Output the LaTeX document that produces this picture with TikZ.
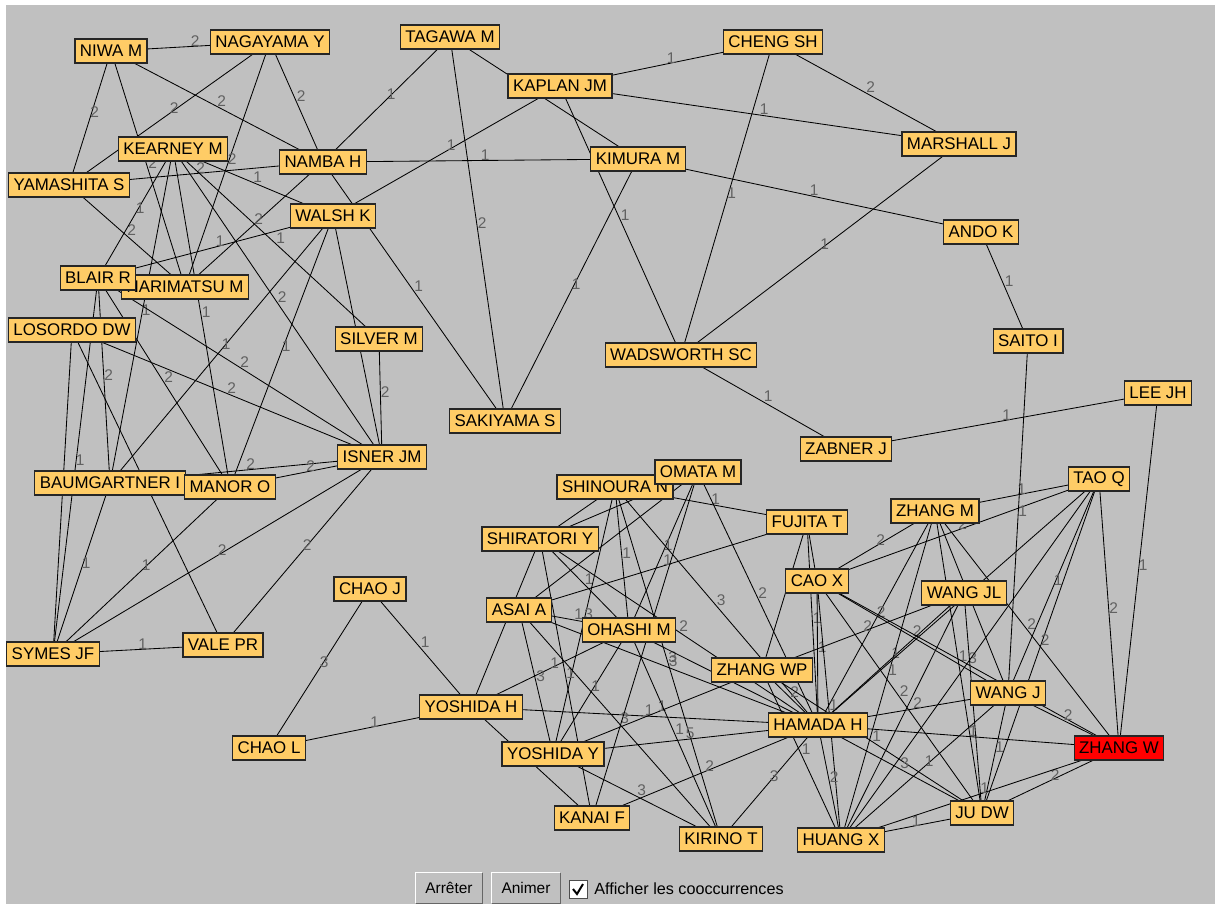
\documentclass[tikz,border=0pt]{standalone}
\usepackage{fontspec}
\setmainfont{Liberation Sans}
\usetikzlibrary{calc}
\pgfdeclarelayer{back}
\pgfdeclarelayer{edges}
\pgfsetlayers{back,edges,main}
\definecolor{panelgrey}{RGB}{192,192,192}
\definecolor{boxfill}{RGB}{255,204,102}
\definecolor{hotred}{RGB}{255,0,0}
\def\cooc(#1,#2)#3{\draw[link] (#1.center) -- node[cnt]{#3} (#2.center);}

\begin{document}
\begin{tikzpicture}[x=0.025cm, y=-0.025cm,
  box/.style={draw=black!85, line width=0.9pt, fill=boxfill, font=\fontsize{12}{12}\selectfont,
    minimum height=0.6cm, inner xsep=0.125cm, inner ysep=0pt},
  link/.style={line width=0.6pt, black},
  cnt/.style={anchor=south west, inner sep=0pt, text=black!62, font=\fontsize{11}{11}\selectfont},
  btn/.style={fill=panelgrey, font=\fontsize{11}{11}\selectfont, minimum height=0.75cm, inner sep=0pt}]
			%%%%% START %%%%%
			
			\useasboundingbox (0,0) rectangle (1222,905);
			\begin{pgfonlayer}{back}
			\fill[white] (0,0) rectangle (1222,905);
			\fill[panelgrey] (6,5) rectangle (1215,904);
			\end{pgfonlayer}
			
			% authors
			\node[box] (niwa) at (111,51) {NIWA M};
			\node[box] (nagayama) at (270,42) {NAGAYAMA Y};
			\node[box] (tagawa) at (450,37) {TAGAWA M};
			\node[box] (kaplan) at (560,86) {KAPLAN JM};
			\node[box] (cheng) at (773,42) {CHENG SH};
			\node[box] (marshall) at (959,144) {MARSHALL J};
			\node[box] (kearney) at (173,149) {KEARNEY M};
			\node[box] (namba) at (323,162) {NAMBA H};
			\node[box] (kimura) at (638,159) {KIMURA M};
			\node[box] (yamashita) at (69,185) {YAMASHITA S};
			\node[box] (walsh) at (333,216) {WALSH K};
			\node[box] (ando) at (981,232) {ANDO K};
			\node[box] (narimatsu) at (185,287) {NARIMATSU M};
			\node[box] (blair) at (98,278) {BLAIR R};
			\node[box] (losordo) at (72,330) {LOSORDO DW};
			\node[box] (silver) at (379,339) {SILVER M};
			\node[box] (saito) at (1028,341) {SAITO I};
			\node[box] (wadsworth) at (681,355) {WADSWORTH SC};
			\node[box] (lee) at (1158,393) {LEE JH};
			\node[box] (sakiyama) at (505,421) {SAKIYAMA S};
			\node[box] (zabner) at (846,449) {ZABNER J};
			\node[box] (isner) at (382,457) {ISNER JM};
			\node[box] (baumgartner) at (110,483) {BAUMGARTNER I};
			\node[box] (manor) at (230,487) {MANOR O};
			\node[box] (shinoura) at (615,487) {SHINOURA N};
			\node[box] (omata) at (698,472) {OMATA M};
			\node[box] (tao) at (1099,479) {TAO Q};
			\node[box] (zhangm) at (935,511) {ZHANG M};
			\node[box] (fujita) at (807,522) {FUJITA T};
			\node[box] (shiratori) at (540,539) {SHIRATORI Y};
			\node[box] (caox) at (817,581) {CAO X};
			\node[box] (chaoj) at (370,589) {CHAO J};
			\node[box] (wangjl) at (964,593) {WANG JL};
			\node[box] (asai) at (519,610) {ASAI A};
			\node[box] (ohashi) at (629,630) {OHASHI M};
			\node[box] (vale) at (223,645) {VALE PR};
			\node[box] (symes) at (53,654) {SYMES JF};
			\node[box] (zhangwp) at (762,670) {ZHANG WP};
			\node[box] (wangj) at (1008,693) {WANG J};
			\node[box] (yoshidah) at (471,707) {YOSHIDA H};
			\node[box] (hamada) at (818,725) {HAMADA H};
			\node[box] (chaol) at (269,748) {CHAO L};
			\node[box, fill=hotred] (zhangw) at (1119,748) {ZHANG W};
			\node[box] (yoshiday) at (553,754) {YOSHIDA Y};
			\node[box] (judw) at (982,813) {JU DW};
			\node[box] (kanai) at (592,818) {KANAI F};
			\node[box] (kirino) at (721,839) {KIRINO T};
			\node[box] (huang) at (841,840) {HUANG X};
			
			% co-occurrence links (drawn under the boxes)
			\begin{pgfonlayer}{edges}
			\cooc(niwa,nagayama){2}
			\cooc(niwa,yamashita){2}
			\cooc(niwa,namba){2}
			\cooc(niwa,narimatsu){2}
			\cooc(nagayama,yamashita){2}
			\cooc(nagayama,namba){2}
			\cooc(nagayama,narimatsu){2}
			\cooc(tagawa,namba){1}
			\cooc(tagawa,kimura){}
			\cooc(tagawa,sakiyama){2}
			\cooc(yamashita,namba){2}
			\cooc(yamashita,narimatsu){2}
			\cooc(namba,narimatsu){2}
			\cooc(kearney,walsh){1}
			\cooc(kearney,blair){1}
			\cooc(kearney,silver){1}
			\cooc(kearney,baumgartner){1}
			\cooc(kearney,manor){1}
			\cooc(kearney,isner){2}
			\cooc(walsh,blair){1}
			\cooc(walsh,baumgartner){1}
			\cooc(walsh,manor){1}
			\cooc(walsh,isner){}
			\cooc(kaplan,walsh){1}
			\cooc(namba,kimura){1}
			\cooc(namba,sakiyama){1}
			\cooc(kimura,sakiyama){1}
			\cooc(kaplan,wadsworth){1}
			\cooc(kaplan,cheng){1}
			\cooc(kaplan,marshall){1}
			\cooc(cheng,wadsworth){1}
			\cooc(cheng,marshall){2}
			\cooc(kimura,ando){1}
			\cooc(marshall,wadsworth){1}
			\cooc(ando,saito){1}
			\cooc(wadsworth,zabner){1}
			\cooc(zabner,lee){1}
			\cooc(lee,zhangw){1}
			\cooc(tao,zhangw){2}
			
			\cooc(blair,baumgartner){2}
			\cooc(blair,symes){1}
			\cooc(blair,manor){2}
			\cooc(blair,isner){2}
			\cooc(losordo,isner){2}
			\cooc(losordo,vale){}
			\cooc(losordo,symes){}
			\cooc(silver,isner){2}
			\cooc(baumgartner,isner){2}
			\cooc(manor,isner){2}
			\cooc(isner,symes){2}
			\cooc(isner,vale){2}
			\cooc(manor,symes){1}
			\cooc(baumgartner,symes){1}
			\cooc(symes,vale){1}
			
			\cooc(chaoj,chaol){3}
			\cooc(chaoj,yoshidah){1}
			\cooc(chaol,yoshidah){1}
			\cooc(shinoura,fujita){1}
			\cooc(omata,ohashi){1}
			\cooc(shinoura,ohashi){1}
			\cooc(asai,fujita){1}
			\cooc(shiratori,ohashi){1}
			\cooc(asai,ohashi){1}
			\cooc(shinoura,yoshiday){3}
			\cooc(shinoura,hamada){3}
			\cooc(shiratori,hamada){2}
			\cooc(shinoura,kirino){3}
			\cooc(asai,hamada){3}
			\cooc(yoshidah,ohashi){1}
			\cooc(asai,yoshiday){3}
			\cooc(shiratori,kanai){1}
			\cooc(ohashi,yoshiday){1}
			\cooc(yoshidah,hamada){1}
			\cooc(yoshiday,zhangwp){1}
			\cooc(asai,kirino){3}
			\cooc(ohashi,kirino){1}
			\cooc(yoshiday,hamada){5}
			\cooc(kanai,hamada){2}
			\cooc(yoshiday,kirino){3}
			\cooc(kirino,hamada){3}
			\cooc(omata,hamada){2}
			\cooc(fujita,hamada){1}
			\cooc(yoshidah,shiratori){}
			\cooc(yoshidah,kanai){}
			\cooc(omata,kanai){}
			\cooc(omata,shiratori){}
			\cooc(shinoura,shiratori){}
			\cooc(omata,asai){}
			\cooc(ohashi,hamada){}
			\cooc(fujita,caox){}
			\cooc(fujita,zhangwp){}
			
			\cooc(zhangm,caox){2}
			\cooc(caox,tao){2}
			\cooc(zhangm,tao){1}
			\cooc(saito,wangj){1}
			\cooc(tao,wangj){1}
			\cooc(zhangm,zhangw){2}
			\cooc(tao,judw){2}
			\cooc(zhangm,hamada){2}
			\cooc(caox,wangj){2}
			\cooc(wangjl,hamada){1}
			\cooc(caox,hamada){1}
			\cooc(zhangm,huang){1}
			\cooc(zhangm,judw){1}
			\cooc(caox,zhangw){3}
			\cooc(tao,huang){}
			\cooc(caox,judw){2}
			\cooc(hamada,wangj){2}
			\cooc(caox,huang){1}
			\cooc(zhangwp,hamada){2}
			\cooc(zhangwp,wangjl){2}
			\cooc(zhangwp,judw){1}
			\cooc(zhangwp,huang){1}
			\cooc(hamada,huang){2}
			\cooc(hamada,judw){3}
			\cooc(wangj,huang){1}
			\cooc(hamada,zhangw){1}
			\cooc(wangj,judw){1}
			\cooc(judw,zhangw){2}
			\cooc(huang,judw){1}
			\cooc(wangj,zhangw){2}
			\cooc(huang,zhangw){1}
			\cooc(zhangm,wangj){}
			\cooc(tao,hamada){}
			\cooc(wangjl,judw){}
			\cooc(wangjl,huang){}
			\end{pgfonlayer}
			
			% controls
			\node[btn, minimum width=1.65cm] (stop) at (449,888) {Arrêter};
			\draw[white, line width=1pt] (stop.south west) -- (stop.north west) -- (stop.north east);
			\draw[black!60, line width=1pt] (stop.north east) -- (stop.south east) -- (stop.south west);
			\node[btn, minimum width=1.7cm] (play) at (526,888) {Animer};
			\draw[white, line width=1pt] (play.south west) -- (play.north west) -- (play.north east);
			\draw[black!60, line width=1pt] (play.north east) -- (play.south east) -- (play.south west);
			\node[draw=black!70, fill=white, minimum size=0.45cm, inner sep=0pt] (tick) at (578,889) {};
			\draw[line width=1.4pt] ($(tick.center)+(-5,0)$) -- ($(tick.center)+(-1,5)$) -- ($(tick.center)+(5,-5)$);
			\node[anchor=west, inner sep=0pt, font=\fontsize{11.5}{11.5}\selectfont] (showcount) at (594,889) {Afficher les cooccurrences};
			
			%%%%% END %%%%%
\end{tikzpicture}
\end{document}
